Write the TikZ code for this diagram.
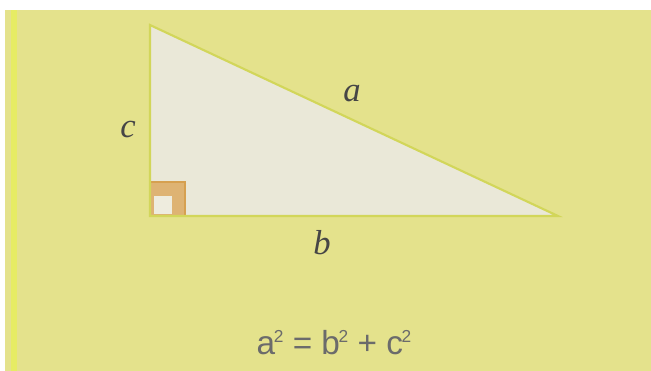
\documentclass[tikz,border=0pt]{standalone}
\usepackage{fontspec}
\setmainfont{Liberation Serif}
\setsansfont{Liberation Sans}
\usepackage{xcolor}
\usepackage{tikz}
\usetikzlibrary{positioning}
\definecolor{pyBack}{RGB}{228,226,140}
\definecolor{pyStripe}{RGB}{230,236,100}
\definecolor{pyFill}{RGB}{234,232,216}
\definecolor{pyEdge}{RGB}{210,214,90}
\definecolor{pyAngle}{RGB}{214,160,80}
\definecolor{pyAngleIn}{RGB}{238,236,222}
\definecolor{pyText}{RGB}{70,70,70}
\newcommand{\sq}{\kern-1pt{\fontsize{13}{14}\selectfont\raisebox{9pt}{2}}}
\begin{document}
\begin{tikzpicture}[
    x=0.75pt, y=-0.75pt,
    side/.style={font=\fontsize{26}{28}\selectfont\itshape, text=pyText},
    formula/.style={font=\fontsize{25}{28}\selectfont\sffamily, text=pyText!80},
    edge/.style={draw=pyEdge, line width=1.6pt, line join=miter}
]
% page and background
\fill[white] (0,0) rectangle (651,371);
\fill[pyBack] (5,10) rectangle (651,371);
\fill[pyStripe] (11,10) rectangle (17,371);

% corners of the triangle
\coordinate (top) at (150,25);
\coordinate (rt) at (150,216);
\coordinate (tip) at (558,216);

\fill[pyFill] (top) -- (rt) -- (tip) -- cycle;

% right angle mark
\fill[pyAngle!80] (150,182) rectangle (185,216);
\fill[pyAngleIn] (154,196) rectangle (172,214);
\draw[pyAngle, line width=1pt] (150,182) -- (185,182) -- (185,216);

\draw[edge] (top) -- (rt) -- (tip) -- cycle;

% labels
\node[side] (lc) at (128,130) {c};
\node[side] (la) at (352,94) {a};
\node[side] (lb) at (322,243) {b};
\node[formula] (pyth) at (334,343) {a\sq\ = b\sq\ + c\sq};
\end{tikzpicture}
\end{document}
